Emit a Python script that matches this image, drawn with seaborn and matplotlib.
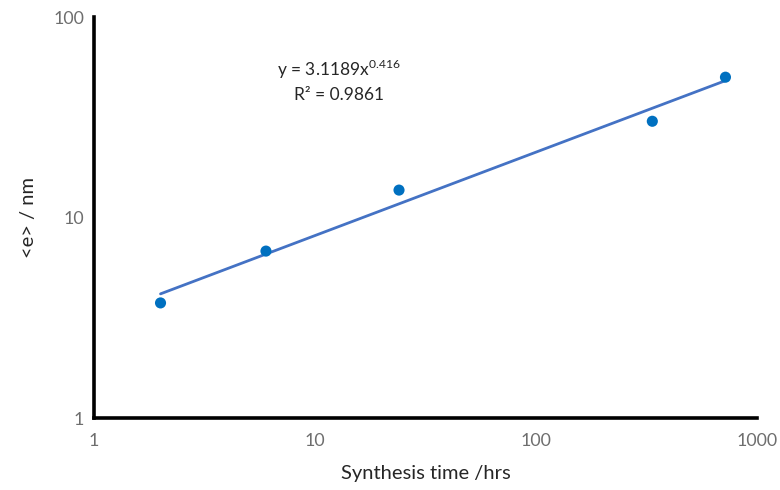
import numpy as np
import pandas as pd
import matplotlib
matplotlib.use("Agg")
import matplotlib.pyplot as plt
import seaborn as sns
from matplotlib.ticker import FixedLocator, NullLocator

# Measured crystallite size versus synthesis time
synthesis_hrs = [2, 6, 24, 336, 720]
size_nm = [3.75, 6.8, 13.7, 30.2, 50.1]

# Power-law trend line coefficients (y = a * x^b)
fit_a = 3.1189
fit_b = 0.416
fit_r2 = 0.9861

x_ticks = [1, 10, 100, 1000]
y_ticks = [1, 10, 100]

sns.set_theme(style="white")
plt.rcParams["font.family"] = ["Lato", "DejaVu Sans"]
plt.rcParams["mathtext.fontset"] = "custom"
plt.rcParams["mathtext.rm"] = "Lato"

df = pd.DataFrame({"t": synthesis_hrs, "e": size_nm})
xs = np.geomspace(min(synthesis_hrs), max(synthesis_hrs), 200)
trend = pd.DataFrame({"t": xs, "e": fit_a * xs ** fit_b})

fig = plt.figure(figsize=(7.8, 4.9), dpi=100)
ax = fig.add_axes([0.1205, 0.1469, 0.85, 0.8184])

sns.lineplot(data=trend, x="t", y="e", ax=ax, color="#4472C4", linewidth=2.0, zorder=2)
sns.scatterplot(data=df, x="t", y="e", ax=ax, color="#0070C0", s=64,
                edgecolor="none", zorder=3)

ax.set_xscale("log")
ax.set_yscale("log")
ax.set_xlim(1, 1000)
ax.set_ylim(1, 100)
ax.xaxis.set_major_locator(FixedLocator(x_ticks))
ax.yaxis.set_major_locator(FixedLocator(y_ticks))
ax.xaxis.set_minor_locator(NullLocator())
ax.yaxis.set_minor_locator(NullLocator())
ax.set_xticklabels([str(v) for v in x_ticks])
ax.set_yticklabels([str(v) for v in y_ticks])

for side in ["top", "right"]:
    ax.spines[side].set_visible(False)
for side in ["left", "bottom"]:
    ax.spines[side].set_color("black")
    ax.spines[side].set_linewidth(2.6)
    ax.spines[side].set_capstyle("projecting")

ax.tick_params(axis="both", which="major", direction="out", length=4, width=2.6,
               color="black", labelcolor="#6e6e6e", labelsize=12.8)
ax.tick_params(axis="x", pad=7)
ax.tick_params(axis="y", pad=3)

ax.set_xlabel("Synthesis time /hrs", fontsize=14.5, color="#262626", labelpad=11)
ax.set_ylabel("<e> / nm", fontsize=14.5, color="#262626", labelpad=12)
ax.grid(False)

ax.text(0.37, 0.87, f"y = {fit_a}x$^{{{fit_b}}}$", transform=ax.transAxes,
        ha="center", va="center", fontsize=12.5, color="#262626")
ax.text(0.37, 0.806, f"R² = {fit_r2}", transform=ax.transAxes,
        ha="center", va="center", fontsize=12.5, color="#262626")

fig.savefig("out.png", dpi=100, facecolor="white")
